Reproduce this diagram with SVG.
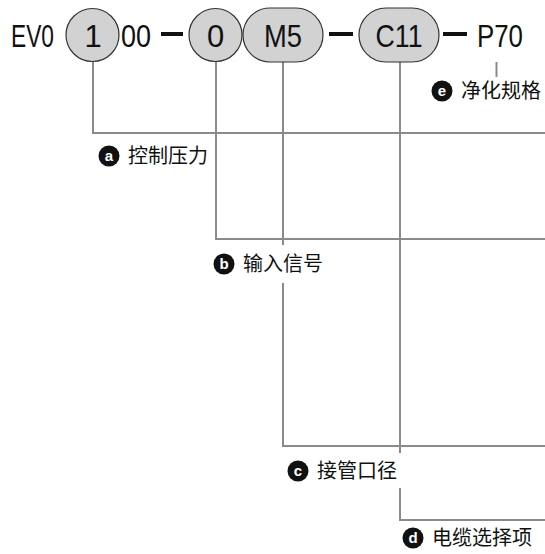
<svg xmlns="http://www.w3.org/2000/svg" width="545" height="554" viewBox="0 0 545 554">
<style>
.code{font-family:"Liberation Sans",Arial,sans-serif;font-size:31px;fill:#111}
.sym{fill:#d2d2d2;stroke:#333;stroke-width:1.2}
.dash{fill:#111}
.conn{fill:none;stroke:#8a8a8a;stroke-width:2}
.badge{fill:#111}
.bl{font-family:"Liberation Sans",Arial,sans-serif;font-size:15px;font-weight:bold;fill:#fff;text-anchor:middle}
.lbl{font-family:"Noto Sans CJK SC","Liberation Sans",sans-serif;font-size:20px;fill:#111}
</style>
<rect width="545" height="554" fill="#fff"/>
<g id="connectors">
<path class="conn" d="M93 62V133H545"/>
<path class="conn" d="M216 62V239H545"/>
<path class="conn" d="M283 62V245M283 283V446H545"/>
<path class="conn" d="M400 62V453M400 488V520H545"/>
<path class="conn" d="M496.5 62V77"/>
</g>
<g id="code">
<text class="code" x="11" y="46.5" textLength="43" lengthAdjust="spacingAndGlyphs">EV0</text>
<g id="n1"><circle class="sym" cx="92.5" cy="35" r="26.5"/><text class="code" x="93" y="46.5" text-anchor="middle">1</text></g>
<text class="code" x="121" y="46.5" textLength="30" lengthAdjust="spacingAndGlyphs">00</text>
<rect class="dash" x="161" y="32" width="22" height="4"/>
<g id="n0"><circle class="sym" cx="215.5" cy="35" r="26.5"/><text class="code" x="215.5" y="46.5" text-anchor="middle">0</text></g>
<g id="nM5"><rect class="sym" x="243" y="8" width="80" height="54" rx="27"/><text class="code" x="264" y="46.5" textLength="38" lengthAdjust="spacingAndGlyphs">M5</text></g>
<rect class="dash" x="329" y="32" width="24" height="4"/>
<g id="nC11"><rect class="sym" x="359" y="8" width="80" height="54" rx="27"/><text class="code" x="375.5" y="46.5" textLength="47" lengthAdjust="spacingAndGlyphs">C11</text></g>
<rect class="dash" x="443" y="32" width="24" height="4"/>
<text class="code" x="477" y="46.5" textLength="46" lengthAdjust="spacingAndGlyphs">P70</text>
</g>
<g id="label-a"><circle class="badge" cx="109" cy="156" r="10.5"/><text class="bl" x="109" y="161">a</text><text class="lbl" x="128" y="163">控制压力</text></g>
<g id="label-b"><circle class="badge" cx="224" cy="264" r="10.5"/><text class="bl" x="224" y="269">b</text><text class="lbl" x="243" y="271">输入信号</text></g>
<g id="label-c"><circle class="badge" cx="298" cy="471" r="10.5"/><text class="bl" x="298" y="476">c</text><text class="lbl" x="317" y="478">接管口径</text></g>
<g id="label-d"><circle class="badge" cx="413" cy="538" r="10.5"/><text class="bl" x="413" y="543">d</text><text class="lbl" x="432" y="545">电缆选择项</text></g>
<g id="label-e"><circle class="badge" cx="442" cy="91" r="10.5"/><text class="bl" x="442" y="96">e</text><text class="lbl" x="461" y="98">净化规格</text></g>
</svg>
